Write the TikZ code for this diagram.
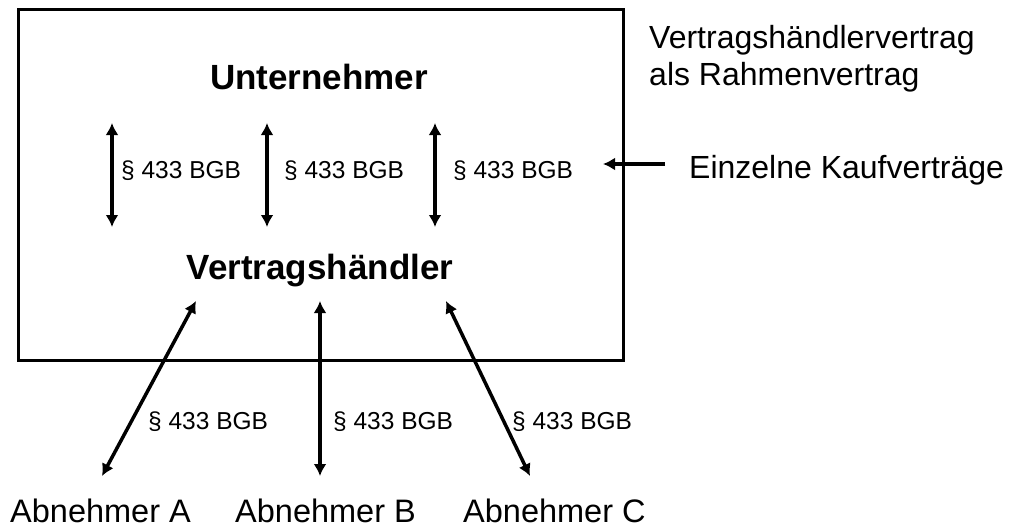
\documentclass[tikz,border=0pt]{standalone}
\usepackage{fontspec}
\setmainfont{Liberation Sans}
\usetikzlibrary{arrows.meta}

\begin{document}
\begin{tikzpicture}[x=1pt, y=-1pt,
	every node/.style={inner sep=0pt, anchor=base west},
	bgb/.style={font=\fontsize{24.5}{29}\selectfont},
	partei/.style={font=\fontsize{35}{42}\selectfont\bfseries, anchor=base},
	abnehmer/.style={font=\fontsize{32.5}{39}\selectfont},
	hinweis/.style={font=\fontsize{32}{37}\selectfont},
	pfeil/.style={line width=3.5pt, {Latex[length=12pt,width=13pt]}-{Latex[length=12pt,width=13pt]}}]
			\useasboundingbox (0,0) rectangle (1017,530);
			\draw[line width=3pt] (18,9) rectangle (623,360);
			
			\node[partei] (u) at (319,89){Unternehmer};
			\node[partei] (v) at (320,279){Vertragshändler};
			
			\coordinate (u1) at (112,123);
			\coordinate (v1) at (112,227);
			\coordinate (u2) at (267,123);
			\coordinate (v2) at (267,227);
			\coordinate (u3) at (435,123);
			\coordinate (v3) at (435,227);
			
			\node[bgb] (k1) at (121,178){§ 433 BGB};
			\node[bgb] (k2) at (284,178){§ 433 BGB};
			\node[bgb] (k3) at (453,178){§ 433 BGB};
			
			\coordinate (va) at (196,301);
			\coordinate (vb) at (320,301);
			\coordinate (vc) at (446,301);
			\coordinate (a) at (102,476);
			\coordinate (b) at (320,476);
			\coordinate (c) at (530,476);
			
			\node[bgb] (ka) at (148,429){§ 433 BGB};
			\node[bgb] (kb) at (333,429){§ 433 BGB};
			\node[bgb] (kc) at (512,429){§ 433 BGB};
			
			\node[abnehmer] (abA) at (10,522){Abnehmer A};
			\node[abnehmer] (abB) at (235,522){Abnehmer B};
			\node[abnehmer] (abC) at (463,522){Abnehmer C};
			
			\node[hinweis] (rv1) at (649,48){Vertragshändlervertrag};
			\node[hinweis] (rv2) at (649,85){als Rahmenvertrag};
			\node[hinweis] (ek) at (689,178){Einzelne Kaufverträge};
			\coordinate (ek0) at (665,164);
			\coordinate (ek1) at (603,164);
			
			\path[pfeil] (u1) edge (v1);
			\path[pfeil] (u2) edge (v2);
			\path[pfeil] (u3) edge (v3);
			\path[pfeil] (va) edge (a);
			\path[pfeil] (vb) edge (b);
			\path[pfeil] (vc) edge (c);
			\draw[line width=3.5pt, -{Latex[length=12pt,width=13pt]}] (ek0) -- (ek1);
			\end{tikzpicture}
\end{document}
